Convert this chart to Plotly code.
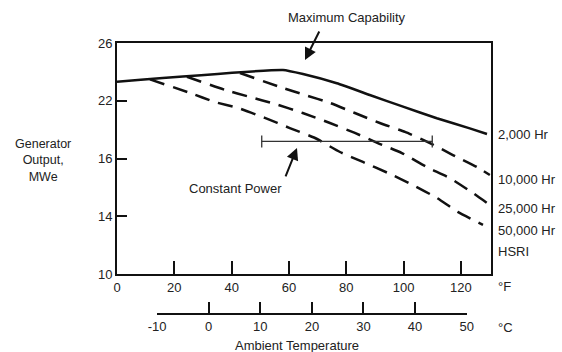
import plotly.graph_objects as go

# Data (°F, MWe)
max_f = [0, 57.9, 64.9, 76.7, 88.2, 99.8, 111.6, 123.1, 129.1]
max_mw = [23.32, 24.13, 23.85, 23.21, 22.40, 21.59, 20.79, 20.09, 19.70]

a_f = [42.9, 56.9, 65.6, 74.3, 83.0, 91.7, 100.5, 109.2, 117.2, 125.6, 130.1]
a_mw = [23.92, 22.95, 22.40, 21.85, 21.15, 20.46, 19.84, 19.07, 18.24, 17.41, 16.86]

b_f = [24.4, 37.7, 46.4, 55.1, 64.8, 74.3, 83.0, 91.0, 99.4, 108.1, 116.1, 124.2, 130.1]
b_mw = [23.66, 22.75, 22.26, 21.78, 21.15, 20.46, 19.77, 19.07, 18.38, 17.41, 16.65, 15.61, 14.78]

c_f = [11.5, 25.5, 34.2, 42.2, 51.6, 60.3, 69.1, 77.8, 85.8, 94.5, 103.2, 111.6, 118.9, 127.7]
c_mw = [23.48, 22.54, 21.91, 21.50, 20.81, 20.11, 19.42, 18.45, 17.76, 17.00, 16.17, 15.27, 14.30, 13.40]

cp_f = [50.5, 110.0]
cp_mw = [19.18, 19.18]

f_ticks = [0, 20, 40, 60, 80, 100, 120]
c_ticks = [-10, 0, 10, 20, 30, 40, 50]
c_ticktext = ["-10", "0", "10", "20", "30", "40", "50"]
y_tickvals = [10, 14, 18, 22, 26]
y_ticktext = ["10", "14", "16", "22", "26"]

FONT = "Arial, Liberation Sans, Helvetica, sans-serif"
INK = "#111111"
TXT = "#222222"
F_MAX = 130.5
FS = 13

fig = go.Figure()
# invisible trace for celsius axis (added first so it sits underneath)
fig.add_trace(go.Scatter(x=[-10, 50], y=[10, 10], xaxis="x2", yaxis="y", mode="markers",
                         marker=dict(opacity=0), showlegend=False, hoverinfo="skip"))
fig.add_trace(go.Scatter(x=max_f, y=max_mw, mode="lines", line=dict(color=INK, width=2.5, shape="spline", smoothing=0.4),
                         showlegend=False))
for xs, ys in [(a_f, a_mw), (b_f, b_mw), (c_f, c_mw)]:
    fig.add_trace(go.Scatter(x=xs, y=ys, mode="lines",
                             line=dict(color=INK, width=2.5, dash="15px,9px", shape="spline", smoothing=0.5),
                             showlegend=False))
fig.add_trace(go.Scatter(x=cp_f, y=cp_mw, mode="lines", line=dict(color="#333", width=1.3),
                         error_y=dict(type="constant", value=0.42, width=0, thickness=1.3, color="#333"),
                         showlegend=False))

ydom0 = (314 - 274) / 271

fig.update_layout(
    width=562, height=352,
    margin=dict(l=117, r=71, t=43, b=38),
    paper_bgcolor="white", plot_bgcolor="rgba(0,0,0,0)",
    font=dict(family=FONT, size=FS, color=TXT),
    xaxis=dict(range=[0, F_MAX], domain=[0, 1], anchor="y", tickvals=f_ticks,
               ticks="inside", ticklen=13, tickwidth=2, tickcolor=INK,
               showline=True, linewidth=2, linecolor=INK, mirror=True,
               showgrid=False, zeroline=False, tickfont=dict(size=FS, color=TXT)),
    yaxis=dict(range=[10, 26], domain=[ydom0, 1], anchor="x", tickvals=y_tickvals, ticktext=y_ticktext,
               ticks="inside", ticklen=10, tickwidth=2, tickcolor=INK,
               showline=True, linewidth=2, linecolor=INK, mirror=True,
               showgrid=False, zeroline=False, tickfont=dict(size=FS, color=TXT)),
    xaxis2=dict(range=[-10, 50], domain=[14 / F_MAX, 122 / F_MAX], anchor="free", position=0,
                tickvals=c_ticks, ticktext=c_ticktext, ticks="inside", ticklen=11, tickwidth=2, tickcolor=INK,
                showline=True, linewidth=2, linecolor=INK, showgrid=False, zeroline=False,
                tickfont=dict(size=FS, color=TXT)),
)

ann = []
def ptxt(px, py, s, xanchor="center", yanchor="middle", size=FS):
    ann.append(dict(x=(px - 117) / 374, y=(314 - py) / 271, xref="paper", yref="paper", text=s,
                    showarrow=False, xanchor=xanchor, yanchor=yanchor,
                    font=dict(size=size, family=FONT, color=TXT)))

ptxt(347, 18, "Maximum Capability")
ptxt(235, 188, "Constant Power")
ptxt(496, 134, "2,000 Hr", xanchor="left")
ptxt(496, 179, "10,000 Hr", xanchor="left")
ptxt(496, 208, "25,000 Hr", xanchor="left")
ptxt(496, 231, "50,000 Hr", xanchor="left")
ptxt(496, 251, "HSRI", xanchor="left")
ptxt(496, 286, "°F", xanchor="left")
ptxt(496, 327, "°C", xanchor="left")
ptxt(297, 345, "Ambient Temperature")
ann.append(dict(x=(43 - 117) / 374, y=(314 - 160) / 271, xref="paper", yref="paper",
                text="Generator<br>Output,<br>MWe", showarrow=False, xanchor="center", yanchor="middle",
                font=dict(size=12.5, family=FONT, color=TXT)))

# arrows
ann.append(dict(x=65.6, y=24.82, xref="x", yref="y", ax=15, ay=-30, text="", showarrow=True,
                arrowhead=2, arrowsize=1.2, arrowwidth=2, arrowcolor=INK))
ann.append(dict(x=62.8, y=18.73, xref="x", yref="y", ax=-12, ay=30, text="", showarrow=True,
                arrowhead=2, arrowsize=1.2, arrowwidth=2, arrowcolor=INK))
fig.update_layout(annotations=ann)

fig.write_html("out.html")
